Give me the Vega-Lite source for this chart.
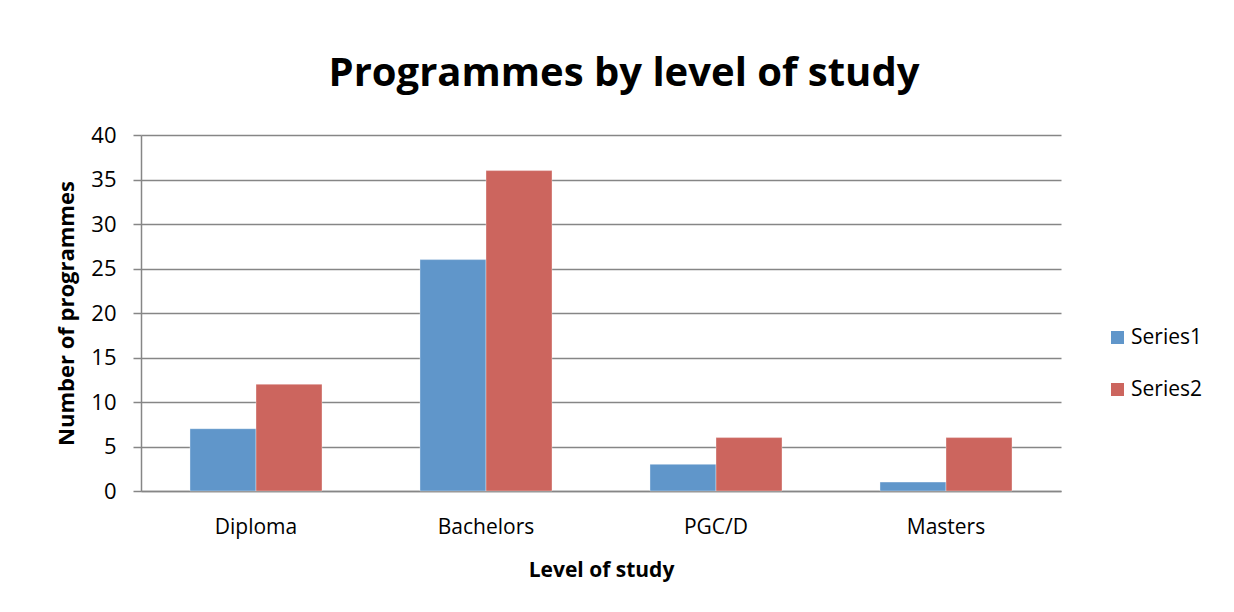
{
  "$schema": "https://vega.github.io/schema/vega-lite/v6.json",
  "width": 920,
  "height": 356,
  "autosize": "none",
  "padding": {"left": 141, "top": 135, "right": 173, "bottom": 121},
  "background": "white",
  "config": {
    "font": "Open Sans",
    "view": {"stroke": null},
    "axis": {"labelColor": "#000000", "titleColor": "#000000", "labelFont": "Open Sans", "titleFont": "Open Sans"}
  },
  "title": {
    "text": "Programmes by level of study",
    "fontSize": 40,
    "fontWeight": "bold",
    "font": "Open Sans",
    "color": "#000000",
    "anchor": "middle",
    "dx": 23,
    "offset": 30
  },
  "data": {
    "values": [
      {"level": "Diploma", "series": "Series1", "value": 7},
      {"level": "Diploma", "series": "Series2", "value": 12},
      {"level": "Bachelors", "series": "Series1", "value": 26},
      {"level": "Bachelors", "series": "Series2", "value": 36},
      {"level": "PGC/D", "series": "Series1", "value": 3},
      {"level": "PGC/D", "series": "Series2", "value": 6},
      {"level": "Masters", "series": "Series1", "value": 1},
      {"level": "Masters", "series": "Series2", "value": 6}
    ]
  },
  "mark": {"type": "bar", "stroke": "#ffffff", "strokeOpacity": 0.35, "strokeWidth": 1},
  "encoding": {
    "x": {
      "field": "level",
      "type": "nominal",
      "sort": ["Diploma", "Bachelors", "PGC/D", "Masters"],
      "scale": {"paddingInner": 0.426, "paddingOuter": 0.213},
      "axis": {
        "title": "Level of study",
        "titleFontSize": 21,
        "titleFontWeight": "bold",
        "titlePadding": 22,
        "labelFontSize": 21,
        "labelAngle": 0,
        "labelPadding": 25,
        "ticks": false,
        "domainColor": "#868686",
        "domainWidth": 1.5
      }
    },
    "xOffset": {"field": "series", "type": "nominal"},
    "y": {
      "field": "value",
      "type": "quantitative",
      "scale": {"domain": [0, 40]},
      "axis": {
        "title": "Number of programmes",
        "titleFontSize": 22,
        "titleFontWeight": "bold",
        "titlePadding": 12,
        "labelFontSize": 22,
        "labelPadding": 17,
        "values": [0, 5, 10, 15, 20, 25, 30, 35, 40],
        "labelOverlap": false,
        "tickSize": 8,
        "tickColor": "#868686",
        "tickWidth": 1.5,
        "gridColor": "#868686",
        "gridWidth": 1.5,
        "domainColor": "#868686",
        "domainWidth": 1.5
      }
    },
    "color": {
      "field": "series",
      "type": "nominal",
      "scale": {"domain": ["Series1", "Series2"], "range": ["#6096CA", "#CC655E"]},
      "legend": {
        "title": null,
        "orient": "none",
        "legendX": 966,
        "legendY": 192,
        "symbolType": "square",
        "symbolSize": 169,
        "symbolStrokeWidth": 0,
        "labelFontSize": 21,
        "labelColor": "#000000",
        "labelFont": "Open Sans",
        "rowPadding": 30,
        "labelOffset": 3
      }
    }
  }
}
